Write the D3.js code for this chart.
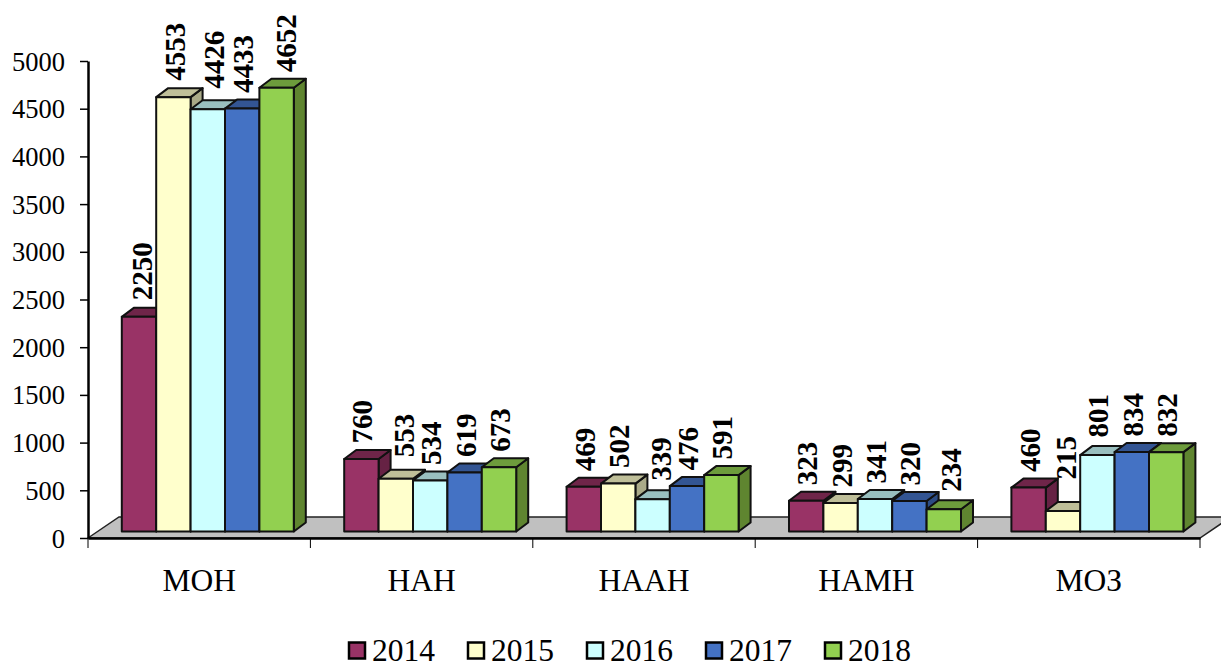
<!DOCTYPE html>
<html>
<head>
<meta charset="utf-8">
<script src="https://cdn.jsdelivr.net/npm/d3@7"></script>
<style>
html, body { margin: 0; padding: 0; background: #fff; overflow: hidden; }
svg { display: block; }
text { font-family: "Liberation Serif", serif; fill: #000; }
</style>
</head>
<body>
<svg width="1221" height="663"></svg>
<script>
var categories = ["МОН", "НАН", "НААН", "НАМН", "МОЗ"];
var years = ["2014", "2015", "2016", "2017", "2018"];
var v2014 = [2250, 760, 469, 323, 460];
var v2015 = [4553, 553, 502, 299, 215];
var v2016 = [4426, 534, 339, 341, 801];
var v2017 = [4433, 619, 476, 320, 834];
var v2018 = [4652, 673, 591, 234, 832];
var series = [v2014, v2015, v2016, v2017, v2018];
var yTicks = [0, 500, 1000, 1500, 2000, 2500, 3000, 3500, 4000, 4500, 5000];

var front = ["#993366", "#ffffcc", "#ccffff", "#4472c4", "#92d050"];
var topc = ["#6f2549", "#bfbf99", "#99bfbf", "#335593", "#6d9c3c"];
var side = ["#662244", "#aaaa88", "#88aaaa", "#2d4c83", "#5f8530"];

var svg = d3.select("svg");
var depthX = 12, depthY = 9, floorX = 31, floorY = 21;

var y = d3.scaleLinear().domain([0, 5000]).range([538, 61]);
var x0 = d3.scaleBand().domain(categories).range([88, 1200]);
var x1 = d3.scaleBand().domain(years).range([33.8, 205.8]);
var baseShift = 6.5; // bars stand in the middle of the floor

// labels that were dragged away from their default spot [dx, extra gap]
var labelNudge = {
    "МОН|2014": [2, 1], "МОН|2015": [1, 1], "МОН|2016": [5, 5], "МОН|2018": [8, 0],
    "НАН|2015": [7, 6],
    "НААН|2016": [7, 3],
    "НАМН|2018": [6, 2],
    "МОЗ|2015": [2, 16], "МОЗ|2016": [0, 2]
};

// floor
svg.append("polygon")
    .attr("points", [[88, 538], [88 + floorX, 538 - floorY], [1200 + floorX, 538 - floorY], [1200, 538]].join(" "))
    .attr("fill", "#c0c0c0")
    .attr("stroke", "#222")
    .attr("stroke-width", 1.5);

// bars, left to right so each one covers the side of the previous
categories.forEach(function(cat, c) {
    years.forEach(function(yr, s) {
        var v = series[s][c];
        var l = x0(cat) + x1(yr), r = l + x1.bandwidth();
        var t = y(v) - baseShift, b = y(0) - baseShift;
        var g = svg.append("g")
            .attr("class", "bar")
            .attr("stroke", "#111")
            .attr("stroke-width", 2)
            .attr("stroke-linejoin", "round");
        g.append("polygon")
            .attr("points", [[r, t], [r + depthX, t - depthY], [r + depthX, b - depthY], [r, b]].join(" "))
            .attr("fill", side[s]);
        g.append("polygon")
            .attr("points", [[l, t], [l + depthX, t - depthY], [r + depthX, t - depthY], [r, t]].join(" "))
            .attr("fill", topc[s]);
        g.append("rect")
            .attr("x", l).attr("y", t)
            .attr("width", r - l).attr("height", b - t)
            .attr("fill", front[s]);
    });
});

// value labels
categories.forEach(function(cat, c) {
    years.forEach(function(yr, s) {
        var v = series[s][c];
        var cx = x0(cat) + x1(yr) + x1.bandwidth() / 2;
        var nudge = labelNudge[cat + "|" + yr] || [0, 0];
        svg.append("text")
            .attr("class", "val")
            .attr("transform", "translate(" + (cx + 11 + nudge[0]) + "," + (y(v) - 22 - nudge[1]) + ") rotate(-90)")
            .attr("font-size", 29)
            .attr("font-weight", "bold")
            .text(v);
    });
});

// y axis
var yAxis = svg.append("g")
    .attr("transform", "translate(88,0)")
    .call(d3.axisLeft(y).tickValues(yTicks).tickSize(8).tickSizeOuter(0).tickFormat(d3.format("d")));
yAxis.select(".domain").attr("stroke", "#000").attr("stroke-width", 2.5);
yAxis.selectAll(".tick line").attr("stroke", "#000").attr("stroke-width", 1.5);
yAxis.selectAll("text").attr("font-size", 26.5).attr("font-family", '"Liberation Serif", serif').attr("x", -23).attr("dy", "0.34em");

// x axis
var xAxis = svg.append("g")
    .attr("transform", "translate(0,538)")
    .call(d3.axisBottom(x0).tickSize(0).tickPadding(31));
xAxis.select(".domain").attr("stroke", "#000").attr("stroke-width", 2.5);
xAxis.selectAll("text").attr("font-size", 31.5).attr("font-family", '"Liberation Serif", serif');
xAxis.selectAll(".sep")
    .data(d3.range(categories.length + 1))
    .enter().append("line")
    .attr("class", "sep")
    .attr("x1", function(d) { return 88 + d * x0.step(); })
    .attr("x2", function(d) { return 88 + d * x0.step(); })
    .attr("y1", 0).attr("y2", 10)
    .attr("stroke", "#000").attr("stroke-width", 1);

// legend
var legend = svg.selectAll(".leg")
    .data(years)
    .enter().append("g")
    .attr("class", "leg")
    .attr("transform", function(d, i) { return "translate(" + (349 + i * 119) + ",642.5)"; });
legend.append("rect")
    .attr("width", 16).attr("height", 16)
    .attr("fill", function(d, i) { return front[i]; })
    .attr("stroke", "#000").attr("stroke-width", 2.5);
legend.append("text")
    .attr("x", 23).attr("y", 18)
    .attr("font-size", 31.5)
    .text(function(d) { return d; });
</script>
</body>
</html>
